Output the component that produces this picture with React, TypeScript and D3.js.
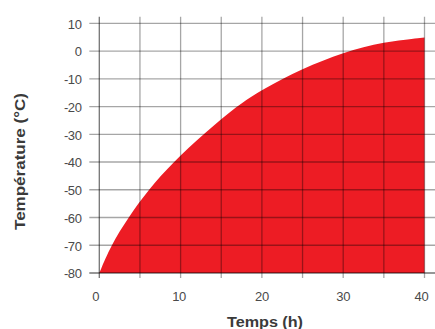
import React from "react";
import * as d3 from "d3";

const hours = [0, 1.44, 3.57, 6.03, 9.1, 12.8, 17, 20, 25, 30, 35, 40];
const temps = [-80, -70, -60, -50, -40, -30, -19.6, -13.9, -6.3, -0.4, 3.3, 4.9];
const xTicks = [0, 10, 20, 30, 40];
const xGrid = [0, 5, 10, 15, 20, 25, 30, 35, 40];
const yTicks = [10, 0, -10, -20, -30, -40, -50, -60, -70, -80];
const xLabel = "Temps (h)";
const yLabel = "Température (°C)";

export default function App() {
  const W = 435, H = 329;
  const x = d3.scaleLinear().domain([0, 40]).range([99.3, 424.5]);
  const y = d3.scaleLinear().domain([-80, 10]).range([273, 23.3]);
  const data = hours.map((h, i) => ({ h, t: temps[i] }));
  const area = d3
    .area<{ h: number; t: number }>()
    .x((d) => x(d.h))
    .y0(y(-80))
    .y1((d) => y(d.t))
    .curve(d3.curveBasis);
  const font = "'Liberation Sans', Arial, sans-serif";
  return (
    <svg width={W} height={H} style={{ position: "fixed", left: 0, top: 0, background: "#fff" }}>
      <path d={area(data) || ""} fill="#ed1c24" />
      <g>
        {yTicks.map((t) => (
          <line key={"h" + t} x1={89.3} x2={435} y1={y(t)} y2={y(t)} stroke="#000" strokeOpacity={t === -80 ? 0.55 : 0.35} strokeWidth={1.3} />
        ))}
        {xGrid.map((h) => (
          <line key={"v" + h} x1={x(h)} x2={x(h)} y1={16.7} y2={278} stroke="#000" strokeOpacity={h === 0 ? 0.55 : 0.35} strokeWidth={1.3} />
        ))}
      </g>
      {yTicks.map((t) => (
        <text key={"yt" + t} x={81.5} y={y(t) + 0.8} dy="0.35em" textAnchor="end" fontFamily={font} fontSize={13} fill="#4a4a4a" letterSpacing={-0.4}>
          {t}
        </text>
      ))}
      {xTicks.map((h) => (
        <text key={"xt" + h} x={x(h) - (h === 0 ? 3.5 : h === 40 ? 3 : h === 10 ? 1.5 : 0)} y={296} dy="0.35em" textAnchor="middle" fontFamily={font} fontSize={13} fill="#4a4a4a" letterSpacing={-0.3}>
          {h}
        </text>
      ))}
      <text x={265} y={322} dy="0.35em" textAnchor="middle" fontFamily={font} fontSize={14} fontWeight="bold" fill="#3a3a3a" textLength={76} lengthAdjust="spacingAndGlyphs">
        {xLabel}
      </text>
      <text transform="translate(20,161.5) rotate(-90)" dy="0.35em" textAnchor="middle" fontFamily={font} fontSize={14} fontWeight="bold" fill="#3a3a3a" textLength={137} lengthAdjust="spacingAndGlyphs">
        {yLabel}
      </text>
    </svg>
  );
}
